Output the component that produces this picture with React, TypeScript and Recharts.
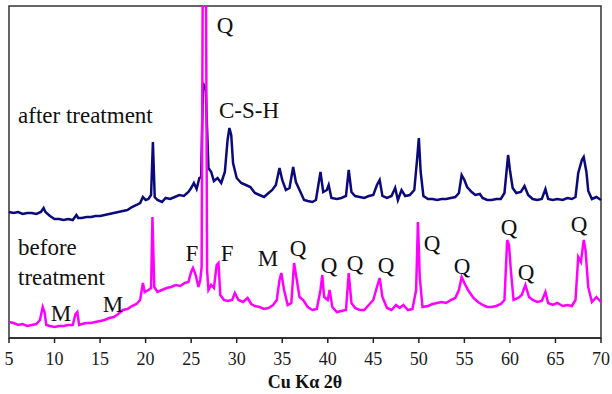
import React from 'react';
import { ComposedChart, Line, XAxis, YAxis, ReferenceArea, ReferenceDot } from 'recharts';

// 2θ positions and intensities (arbitrary units)
const AFTER_2THETA = [
  5.0, 5.5, 6.0, 6.5, 7.0, 7.5, 8.0, 8.5, 8.8, 9.0, 9.5, 10.0, 10.5, 11.0, 11.5, 12.0, 12.4, 12.6, 13.0, 13.5,
  14.0, 14.5, 15.0, 15.5, 16.0, 16.5, 17.0, 17.5, 18.0, 18.5, 19.0, 19.4, 19.7, 20.0, 20.3, 20.6, 20.8, 21.0, 21.3, 21.8,
  22.2, 22.7, 23.2, 23.7, 24.2, 24.7, 25.0, 25.3, 25.6, 25.9, 26.1, 26.3, 26.6, 26.9, 27.2, 27.5, 27.9, 28.3, 28.7, 29.0,
  29.2, 29.4, 29.6, 30.0, 30.5, 31.0, 31.5, 32.0, 32.5, 33.0, 33.5, 33.9, 34.3, 34.7, 35.0, 35.4, 35.8, 36.2, 36.5, 37.0,
  37.4, 37.8, 38.3, 38.7, 39.2, 39.5, 39.9, 40.1, 40.4, 41.0, 41.5, 42.0, 42.3, 42.6, 43.0, 43.5, 44.0, 44.5, 45.0, 45.4,
  45.7, 46.0, 46.5, 47.0, 47.4, 47.7, 48.1, 48.5, 49.0, 49.5, 49.8, 50.0, 50.2, 50.5, 51.0, 51.5, 52.0, 52.5, 53.0, 53.5,
  54.0, 54.4, 54.7, 55.0, 55.3, 55.8, 56.2, 56.7, 57.0, 57.5, 58.0, 58.5, 59.0, 59.4, 59.8, 60.0, 60.3, 60.7, 61.2, 61.6,
  62.0, 62.5, 63.0, 63.5, 63.9, 64.2, 64.7, 65.2, 65.8, 66.3, 66.8, 67.2, 67.5, 67.9, 68.1, 68.4, 68.6, 69.0, 69.5, 70.0,
];
const AFTER_I = [
  126, 125, 126, 124, 125, 125, 124, 126, 130, 126, 122, 119, 119, 118, 119, 118, 123, 120, 120, 121,
  121, 122, 122, 123, 124, 125, 126, 127, 128, 131, 133, 135, 141, 138, 139, 143, 196, 141, 138, 136,
  140, 139, 141, 143, 142, 146, 150, 155, 149, 160, 161, 255, 248, 170, 166, 157, 160, 155, 166, 198,
  210, 203, 175, 160, 155, 153, 151, 145, 143, 141, 145, 148, 153, 170, 158, 148, 150, 171, 156, 146,
  138, 137, 136, 138, 166, 146, 148, 153, 140, 139, 140, 142, 168, 146, 142, 141, 140, 142, 143, 153,
  158, 142, 140, 142, 150, 138, 148, 142, 143, 148, 178, 200, 166, 142, 139, 139, 138, 139, 139, 140,
  141, 145, 163, 158, 151, 146, 143, 144, 140, 138, 138, 139, 139, 145, 183, 168, 150, 145, 146, 152,
  143, 139, 138, 139, 149, 139, 138, 139, 138, 140, 139, 141, 165, 178, 181, 166, 147, 139, 141, 138,
];

const BEFORE_2THETA = [
  5.0, 5.5, 6.0, 6.5, 7.0, 7.5, 8.0, 8.4, 8.7, 8.9, 9.1, 9.5, 10.0, 10.5, 11.0, 11.5, 12.0, 12.3, 12.5, 12.7,
  13.0, 13.5, 14.0, 14.5, 15.0, 15.5, 16.0, 16.5, 17.0, 17.5, 18.0, 18.5, 19.0, 19.4, 19.7, 19.9, 20.3, 20.6, 20.75, 20.95,
  21.3, 21.8, 22.3, 22.8, 23.3, 23.8, 24.3, 24.7, 25.0, 25.2, 25.5, 25.8, 26.0, 26.15, 26.3, 26.6, 26.75, 26.9, 27.2, 27.5,
  27.8, 28.0, 28.2, 28.6, 29.0, 29.5, 29.8, 30.2, 30.7, 31.2, 31.6, 32.0, 32.5, 33.0, 33.5, 34.0, 34.4, 34.7, 34.9, 35.2,
  35.6, 36.0, 36.3, 36.6, 36.9, 37.3, 37.8, 38.3, 38.8, 39.2, 39.4, 39.6, 40.0, 40.2, 40.5, 41.0, 41.5, 42.0, 42.3, 42.6,
  43.0, 43.5, 44.0, 44.5, 45.0, 45.4, 45.7, 46.0, 46.5, 47.0, 47.5, 47.9, 48.3, 48.8, 49.3, 49.7, 49.9, 50.1, 50.4, 51.0,
  51.5, 52.0, 52.5, 53.0, 53.5, 54.0, 54.4, 54.7, 55.0, 55.4, 56.0, 56.5, 57.0, 57.5, 58.0, 58.5, 59.0, 59.4, 59.7, 59.9,
  60.1, 60.4, 60.9, 61.3, 61.7, 62.1, 62.5, 63.0, 63.5, 63.9, 64.2, 64.7, 65.2, 65.8, 66.3, 66.8, 67.2, 67.5, 67.8, 68.1,
  68.3, 68.6, 69.0, 69.5, 70.0,
];
const BEFORE_I = [
  16, 15, 13, 14, 12, 13, 14, 18, 31, 26, 13, 12, 11, 12, 12, 13, 13, 24, 26, 13,
  14, 15, 15, 16, 17, 18, 20, 21, 24, 28, 29, 32, 34, 38, 55, 46, 48, 50, 121, 51,
  46, 48, 50, 51, 53, 52, 55, 56, 66, 70, 63, 51, 58, 71, 420, 420, 68, 48, 53, 50,
  73, 75, 43, 38, 37, 38, 45, 38, 36, 40, 34, 32, 31, 29, 30, 33, 38, 58, 65, 48,
  33, 35, 75, 58, 41, 38, 31, 28, 29, 48, 63, 41, 38, 48, 31, 26, 27, 28, 65, 35,
  30, 28, 28, 33, 38, 51, 60, 41, 30, 28, 33, 30, 33, 28, 29, 48, 116, 61, 31, 32,
  34, 35, 36, 35, 38, 40, 48, 61, 55, 48, 40, 36, 33, 31, 31, 32, 34, 38, 98, 93,
  68, 38, 40, 43, 53, 41, 38, 36, 37, 46, 35, 33, 35, 32, 33, 32, 38, 81, 76, 98,
  88, 51, 36, 41, 36,
];

const X_TICKS = [5, 10, 15, 20, 25, 30, 35, 40, 45, 50, 55, 60, 65, 70];

// phase labels: text, 2θ, intensity, anchor
const LABEL_TEXT = ['Q', 'after treatment', 'C-S-H', 'before', 'treatment', 'M', 'M', 'F', 'F', 'M', 'Q', 'Q', 'Q', 'Q', 'Q', 'Q', 'Q', 'Q', 'Q'];
const LABEL_2THETA = [28.72, 5.99, 31.35, 5.99, 5.99, 10.71, 16.42, 25.09, 28.94, 33.44, 36.73, 40.13, 42.99, 46.39, 51.44, 54.74, 59.9, 61.76, 67.58];
const LABEL_I = [313, 223, 228, 91, 61, 25, 34, 85, 85, 80, 90, 73, 75, 73, 95, 72, 111, 66, 114];
const LABEL_ANCHOR = ['middle', 'start', 'middle', 'start', 'start', 'middle', 'middle', 'middle', 'middle', 'middle', 'middle', 'middle', 'middle', 'middle', 'middle', 'middle', 'middle', 'middle', 'middle'];

const afterData = AFTER_2THETA.map((x, i) => ({ x, y: AFTER_I[i] }));
const beforeData = BEFORE_2THETA.map((x, i) => ({ x, y: BEFORE_I[i] }));

const SERIF = '"Liberation Serif", "Times New Roman", serif';

export default function App() {
  return (
    <div style={{ position: 'absolute', left: 0, top: 0, background: '#fff' }}>
      <ComposedChart width={612} height={394} margin={{ top: 6, right: 11, left: 9, bottom: 0 }}>
        <XAxis
          dataKey="x"
          type="number"
          domain={[5, 70]}
          ticks={X_TICKS}
          height={56}
          tickSize={5}
          tickMargin={9}
          axisLine={{ stroke: '#222', strokeWidth: 1.5 }}
          tickLine={{ stroke: '#222', strokeWidth: 1.5 }}
          tick={{ fill: '#1a1a1a', fontSize: 18, fontFamily: SERIF }}
          label={{ value: 'Cu Kα 2θ', position: 'insideBottom', offset: 6, fill: '#111', fontSize: 18, fontWeight: 'bold', fontFamily: SERIF }}
        />
        <YAxis hide domain={[0, 332]} allowDataOverflow />
        <ReferenceArea x1={5} x2={70} y1={0} y2={332} fill="none" stroke="#333" strokeWidth={1.5} ifOverflow="visible" />
        <Line data={afterData} dataKey="y" type="linear" stroke="#0a0a7a" strokeWidth={2.5} dot={false} isAnimationActive={false} />
        <Line data={beforeData} dataKey="y" type="linear" stroke="#ff00ff" strokeWidth={2.5} dot={false} isAnimationActive={false} />
        {LABEL_TEXT.map((t, i) => (
          <ReferenceDot
            key={i}
            x={LABEL_2THETA[i]}
            y={LABEL_I[i]}
            r={0}
            stroke="none"
            fill="none"
            ifOverflow="visible"
            label={{
              content: (p: any) => (
                <text
                  x={p.viewBox.x + (p.viewBox.width || 0) / 2}
                  y={p.viewBox.y + (p.viewBox.height || 0) / 2}
                  dy="0.35em"
                  textAnchor={LABEL_ANCHOR[i]}
                  fontSize={23}
                  fontFamily={SERIF}
                  fill="#111"
                >
                  {t}
                </text>
              ),
            }}
          />
        ))}
      </ComposedChart>
    </div>
  );
}
